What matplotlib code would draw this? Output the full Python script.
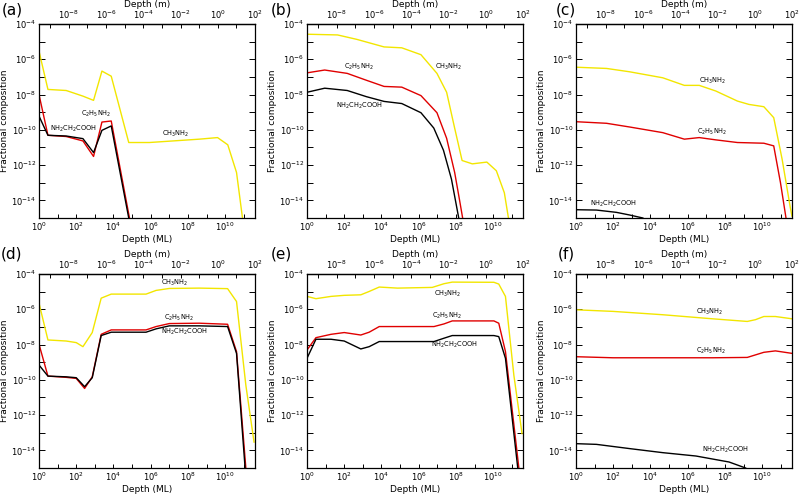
import matplotlib
matplotlib.use('Agg')
import matplotlib.pyplot as plt
import numpy as np
from matplotlib.ticker import FixedLocator, NullFormatter, FuncFormatter

plt.rcParams['font.family'] = ['DejaVu Sans']
plt.rcParams['mathtext.default'] = 'regular'

# metres per monolayer for the top axis
ML_TO_M = 2.5e-10

# log10(depth in ML) / log10(fractional composition)
# (a)
a_ch3_x = [0, 0.48, 1.46, 2.36, 2.93, 3.38, 3.88, 4.82, 5.93, 8.61, 9.59, 10.14, 10.61, 10.93]
a_ch3_y = [-5.54, -7.71, -7.77, -8.09, -8.33, -6.67, -6.96, -10.72, -10.72, -10.53, -10.44, -10.85, -12.42, -15.0]
a_c2h5_x = [0, 0.48, 1.46, 2.36, 2.93, 3.38, 3.88, 4.86]
a_c2h5_y = [-8.0, -10.31, -10.38, -10.63, -11.51, -9.56, -9.50, -15.0]
a_gly_x = [0, 0.48, 1.46, 2.36, 2.93, 3.38, 3.88, 4.82]
a_gly_y = [-9.22, -10.31, -10.35, -10.50, -11.29, -10.03, -9.78, -15.0]
# (b)
b_ch3_x = [0, 1.64, 2.67, 4.14, 5.09, 6.12, 6.98, 7.50, 7.93, 8.33, 8.88, 9.66, 10.17, 10.6, 10.82]
b_ch3_y = [-4.58, -4.62, -4.87, -5.30, -5.35, -5.74, -6.80, -7.87, -9.90, -11.74, -11.93, -11.83, -12.32, -13.57, -15.0]
b_c2h5_x = [0, 0.95, 2.16, 3.19, 4.14, 5.09, 6.12, 6.98, 7.50, 7.93, 8.19, 8.36]
b_c2h5_y = [-6.77, -6.61, -6.80, -7.19, -7.54, -7.58, -8.06, -9.03, -10.48, -12.41, -13.96, -15.0]
b_gly_x = [0, 0.95, 2.16, 3.19, 4.14, 5.09, 6.12, 6.81, 7.33, 7.76, 8.15]
b_gly_y = [-7.87, -7.64, -7.77, -8.12, -8.39, -8.51, -9.03, -9.90, -11.16, -12.80, -15.0]
# (c)
c_ch3_x = [0, 1.64, 2.88, 4.66, 5.82, 6.62, 7.51, 8.67, 9.29, 10.09, 10.62, 11.07, 11.51, 11.6]
c_ch3_y = [-6.45, -6.52, -6.71, -7.05, -7.48, -7.48, -7.80, -8.37, -8.56, -8.69, -9.31, -11.66, -14.40, -14.9]
c_c2h5_x = [0, 1.64, 2.88, 4.66, 5.82, 6.62, 7.51, 8.67, 10.09, 10.62, 10.98, 11.28]
c_c2h5_y = [-9.54, -9.63, -9.84, -10.16, -10.53, -10.44, -10.57, -10.72, -10.76, -10.91, -12.98, -15.0]
c_gly_x = [0, 1.10, 2.17, 2.88, 3.59]
c_gly_y = [-14.53, -14.55, -14.68, -14.83, -15.0]
# (d)
d_ch3_x = [0, 0.48, 1.46, 2.0, 2.36, 2.86, 3.34, 3.88, 5.75, 6.29, 7.0, 8.61, 10.13, 10.61, 11.11, 11.55]
d_ch3_y = [-5.65, -7.74, -7.80, -7.89, -8.12, -7.32, -5.37, -5.14, -5.14, -4.93, -4.82, -4.80, -4.83, -5.56, -10.30, -13.53]
d_c2h5_x = [0, 0.48, 1.46, 2.0, 2.45, 2.86, 3.34, 3.88, 5.75, 6.29, 7.0, 8.61, 10.13, 10.61, 11.11]
d_c2h5_y = [-7.98, -9.79, -9.86, -9.92, -10.49, -9.83, -7.42, -7.17, -7.17, -6.98, -6.81, -6.79, -6.85, -8.40, -15.0]
d_gly_x = [0, 0.48, 1.46, 2.0, 2.45, 2.86, 3.34, 3.88, 5.75, 6.29, 7.0, 8.61, 10.13, 10.61, 11.07]
d_gly_y = [-9.16, -9.79, -9.83, -9.88, -10.39, -9.88, -7.49, -7.30, -7.30, -7.11, -6.94, -6.94, -6.98, -8.50, -15.0]
# (e)
e_ch3_x = [0, 0.48, 1.29, 2.0, 2.89, 3.34, 3.88, 4.86, 6.73, 7.36, 7.80, 10.04, 10.30, 10.66, 11.11, 11.55]
e_ch3_y = [-5.27, -5.40, -5.27, -5.21, -5.18, -4.99, -4.74, -4.80, -4.76, -4.55, -4.46, -4.47, -4.57, -5.27, -9.73, -13.05]
e_c2h5_x = [0, 0.48, 1.29, 2.0, 2.89, 3.34, 3.88, 4.86, 6.82, 7.36, 7.80, 10.04, 10.30, 10.66, 11.38]
e_c2h5_y = [-8.31, -7.61, -7.42, -7.32, -7.46, -7.30, -6.98, -6.98, -6.98, -6.83, -6.66, -6.66, -6.79, -8.40, -15.0]
e_gly_x = [0, 0.48, 1.29, 2.0, 2.89, 3.34, 3.88, 4.86, 6.82, 7.36, 7.80, 10.04, 10.30, 10.66, 11.32]
e_gly_y = [-8.78, -7.70, -7.70, -7.80, -8.25, -8.12, -7.83, -7.83, -7.83, -7.64, -7.49, -7.49, -7.55, -8.78, -15.0]
# (f)
f_ch3_x = [0, 1.99, 4.66, 7.33, 9.20, 9.64, 10.09, 10.71, 11.6]
f_ch3_y = [-6.03, -6.12, -6.31, -6.54, -6.69, -6.59, -6.41, -6.41, -6.54]
f_c2h5_x = [0, 1.99, 4.66, 7.33, 9.20, 10.09, 10.71, 11.6]
f_c2h5_y = [-8.69, -8.75, -8.75, -8.75, -8.73, -8.44, -8.36, -8.50]
f_gly_x = [0, 1.10, 2.88, 4.66, 6.44, 8.22, 9.11]
f_gly_y = [-13.62, -13.66, -13.90, -14.13, -14.32, -14.66, -15.0]

panel_letters = ['(a)', '(b)', '(c)', '(d)', '(e)', '(f)']
species = ['CH$_3$NH$_2$', 'C$_2$H$_5$NH$_2$', 'NH$_2$CH$_2$COOH']
colors = ['#f2e600', '#e00000', 'black']

# label positions (log10 x, log10 y) per panel, order CH3, C2H5, glycine
label_pos = [
    [(7.36, -10.25), (3.07, -9.08), (1.86, -9.93)],
    [(7.58, -6.46), (2.81, -6.46), (2.81, -8.64)],
    [(7.33, -7.20), (7.33, -10.12), (1.99, -14.21)],
    [(7.27, -4.51), (7.54, -6.47), (7.80, -7.30)],
    [(7.54, -5.14), (7.54, -6.35), (7.95, -8.02)],
    [(7.15, -6.13), (7.25, -8.36), (8.04, -14.0)],
]

curves = [
    [(a_ch3_x, a_ch3_y), (a_c2h5_x, a_c2h5_y), (a_gly_x, a_gly_y)],
    [(b_ch3_x, b_ch3_y), (b_c2h5_x, b_c2h5_y), (b_gly_x, b_gly_y)],
    [(c_ch3_x, c_ch3_y), (c_c2h5_x, c_c2h5_y), (c_gly_x, c_gly_y)],
    [(d_ch3_x, d_ch3_y), (d_c2h5_x, d_c2h5_y), (d_gly_x, d_gly_y)],
    [(e_ch3_x, e_ch3_y), (e_c2h5_x, e_c2h5_y), (e_gly_x, e_gly_y)],
    [(f_ch3_x, f_ch3_y), (f_c2h5_x, f_c2h5_y), (f_gly_x, f_gly_y)],
]

XMAX = 100 / ML_TO_M

fig = plt.figure(figsize=(8, 4.94), dpi=100)
lefts = [39 / 800, 307 / 800, 576 / 800]
bottoms = [1 - 218 / 494, 1 - 468 / 494]
w = 216 / 800
h = 194 / 494


def pow_label(v, pos):
    e = int(round(np.log10(v)))
    return '$10^{%d}$' % e


for i in range(6):
    row, col = divmod(i, 3)
    ax = fig.add_axes([lefts[col], bottoms[row], w, h])
    ax.set_xscale('log')
    ax.set_yscale('log')
    ax.set_xlim(1, XMAX)
    ax.set_ylim(1e-15, 1e-4)

    for (xs, ys), c in zip(curves[i], colors):
        ax.plot(10 ** np.array(xs), 10 ** np.array(ys), color=c, lw=1.0)

    for (lx, ly), s in zip(label_pos[i], species):
        ax.text(10 ** lx, 10 ** ly, s, fontsize=4.8, ha='center', va='center')

    ax.xaxis.set_major_locator(FixedLocator([10.0 ** k for k in range(0, 12, 2)]))
    ax.xaxis.set_minor_locator(FixedLocator([10.0 ** k for k in range(1, 12, 2)]))
    ax.xaxis.set_major_formatter(FuncFormatter(pow_label))
    ax.xaxis.set_minor_formatter(NullFormatter())
    ax.yaxis.set_major_locator(FixedLocator([10.0 ** k for k in range(-14, -3, 2)]))
    ax.yaxis.set_minor_locator(FixedLocator([10.0 ** k for k in range(-15, -4, 2)]))
    ax.yaxis.set_major_formatter(FuncFormatter(pow_label))
    ax.yaxis.set_minor_formatter(NullFormatter())
    ax.tick_params(which='both', direction='in', length=3, width=0.7,
                   labelsize=6, pad=2, top=False, right=True)
    ax.tick_params(axis='y', which='both', length=4)
    for sp in ax.spines.values():
        sp.set_linewidth(0.9)

    ax.set_xlabel('Depth (ML)', fontsize=6.5, labelpad=1)
    ax.set_ylabel('Fractional composition', fontsize=6.5, labelpad=2)

    sec = ax.secondary_xaxis('top', functions=(lambda x: x * ML_TO_M, lambda x: x / ML_TO_M))
    sec.xaxis.set_major_locator(FixedLocator([10.0 ** k for k in range(-8, 3, 2)]))
    sec.xaxis.set_minor_locator(FixedLocator([10.0 ** k for k in range(-9, 2, 2)]))
    sec.xaxis.set_major_formatter(FuncFormatter(pow_label))
    sec.xaxis.set_minor_formatter(NullFormatter())
    sec.tick_params(which='both', direction='in', length=3, width=0.7, labelsize=6, pad=2)
    sec.spines['top'].set_linewidth(0.9)
    sec.set_xlabel('Depth (m)', fontsize=6.5, labelpad=1)

    fx = [12, 281, 566][col] / 800
    fy = 1 - [10, 254][row] / 494
    fig.text(fx, fy, panel_letters[i], fontsize=11, ha='center', va='center')

fig.savefig('out.png', dpi=100)
